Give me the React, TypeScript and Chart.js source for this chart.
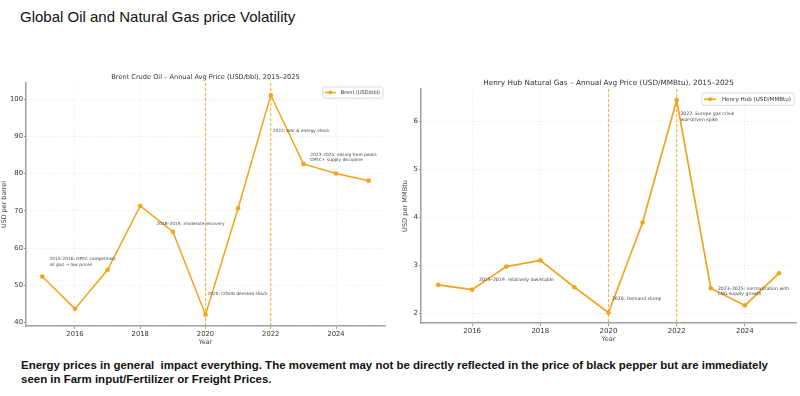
import React, { useEffect, useLayoutEffect, useRef } from "react";
import { Chart, registerables } from "chart.js";

Chart.register(...registerables);

// ---------- data ----------
const years = [2015, 2016, 2017, 2018, 2019, 2020, 2021, 2022, 2023, 2024, 2025];
const brent = [52.4, 43.7, 54.2, 71.3, 64.4, 42.1, 70.7, 101.0, 82.6, 80.0, 78.1];
const henryHub = [2.6, 2.5, 2.98, 3.11, 2.55, 2.02, 3.9, 6.45, 2.53, 2.17, 2.84];
const xTickYears = [2016, 2018, 2020, 2022, 2024];
const brentTicks = [40, 50, 60, 70, 80, 90, 100];
const gasTicks = [2, 3, 4, 5, 6];
const eventYears = [2020, 2022];

const brentNotes = [
  { x: 2015.22, y: 57.05, lines: ["2015–2016: OPEC competition,", "oil glut → low prices"] },
  { x: 2018.5, y: 66.5, lines: ["2018–2019: moderate recovery"] },
  { x: 2020.06, y: 47.6, lines: ["2020: COVID demand shock"] },
  { x: 2022.06, y: 91.5, lines: ["2022: War & energy shock"] },
  { x: 2023.21, y: 85.1, lines: ["2023–2025: easing from peaks", "OPEC+ supply discipline"] },
];
const gasNotes = [
  { x: 2022.11, y: 6.155, lines: ["2022: Europe gas crisis", "war-driven spike"] },
  { x: 2016.2, y: 2.715, lines: ["2015–2019: relatively low/stable"] },
  { x: 2020.1, y: 2.31, lines: ["2020: Demand slump"] },
  { x: 2023.21, y: 2.527, lines: ["2023–2025: normalization with", "LNG supply growth"] },
];

const pageTitle = "Global Oil and Natural Gas price Volatility";
const footnote = [
  "Energy prices in general  impact everything. The movement may not be directly reflected in the price of black pepper but are immediately",
  "seen in Farm input/Fertilizer or Freight Prices.",
];

const ORANGE = "#F2A31B";
const EVENT = "rgba(242,163,27,0.8)";

// ---------- overlay plugin ----------
const overlay = {
  id: "overlay",
  beforeDatasetsDraw(chart: any, _a: any, o: any) {
    const { ctx, chartArea, scales } = chart;
    ctx.save();
    ctx.strokeStyle = EVENT;
    ctx.lineWidth = 1.1;
    ctx.setLineDash([3, 2]);
    for (const yr of o.events) {
      const px = scales.x.getPixelForValue(yr);
      ctx.beginPath();
      ctx.moveTo(px, chartArea.top);
      ctx.lineTo(px, chartArea.bottom);
      ctx.stroke();
    }
    ctx.restore();
  },
  afterDraw(chart: any, _a: any, o: any) {
    const { ctx, chartArea, scales } = chart;
    ctx.save();
    // title
    ctx.fillStyle = "#333";
    ctx.font = `${o.titleSize}px "DejaVu Sans"`;
    ctx.textAlign = "center";
    ctx.textBaseline = "middle";
    ctx.fillText(o.title, (chartArea.left + chartArea.right) / 2, chartArea.top - 6);
    // notes
    ctx.font = `${o.noteSize}px "DejaVu Sans"`;
    ctx.textAlign = "left";
    ctx.fillStyle = "#444";
    for (const n of o.notes) {
      const px = scales.x.getPixelForValue(n.x);
      const py = scales.y.getPixelForValue(n.y);
      n.lines.forEach((l: string, i: number) => ctx.fillText(l, px, py + i * o.noteSize * 1.25));
    }
    // legend
    ctx.font = `${o.legendSize}px "DejaVu Sans"`;
    const tw = ctx.measureText(o.legend).width;
    const lineW = o.legendSize * 2.2;
    const boxW = 2 + lineW + o.legendSize + tw + 3;
    const boxH = o.legendSize * 2.2;
    const bx = chartArea.right - 2 - boxW;
    const by = chartArea.top + 4;
    ctx.fillStyle = "rgba(255,255,255,0.9)";
    ctx.strokeStyle = "#d0d0d0";
    ctx.lineWidth = 0.8;
    ctx.beginPath();
    ctx.roundRect(bx, by, boxW, boxH, 2);
    ctx.fill();
    ctx.stroke();
    const cy = by + boxH / 2;
    ctx.strokeStyle = ORANGE;
    ctx.lineWidth = 1.5;
    ctx.beginPath();
    ctx.moveTo(bx + 2, cy);
    ctx.lineTo(bx + 2 + lineW, cy);
    ctx.stroke();
    ctx.fillStyle = ORANGE;
    ctx.beginPath();
    ctx.arc(bx + 2 + lineW / 2, cy, 2, 0, Math.PI * 2);
    ctx.fill();
    ctx.fillStyle = "#333";
    ctx.textBaseline = "middle";
    ctx.fillText(o.legend, bx + 2 + lineW + o.legendSize, cy);
    ctx.restore();
  },
};

type Cfg = {
  values: number[];
  yTicks: number[];
  yMin: number;
  yMax: number;
  yTitle: string;
  yWidth: number;
  padding: { top: number; right: number; bottom: number; left: number };
  title: string;
  titleSize: number;
  notes: any[];
  noteSize: number;
  legend: string;
  legendSize: number;
  tickSize: number;
  axisTitleSize: number;
  lineWidth: number;
};

function LineChart({ cfg, width, height, style }: { cfg: Cfg; width: number; height: number; style: any }) {
  const ref = useRef<HTMLCanvasElement>(null);
  useEffect(() => {
    const chart = new Chart(ref.current!, {
      type: "line",
      data: {
        datasets: [
          {
            label: cfg.legend,
            data: years.map((yr, i) => ({ x: yr, y: cfg.values[i] })),
            borderColor: ORANGE,
            backgroundColor: ORANGE,
            borderWidth: cfg.lineWidth,
            pointRadius: 2.3,
            pointBorderWidth: 0,
            pointBackgroundColor: ORANGE,
            tension: 0,
          },
        ],
      },
      options: {
        responsive: false,
        animation: false,
        events: [],
        layout: { padding: cfg.padding },
        plugins: {
          legend: { display: false },
          tooltip: { enabled: false },
          title: { display: false },
          overlay: {
            events: eventYears,
            title: cfg.title,
            titleSize: cfg.titleSize,
            notes: cfg.notes,
            noteSize: cfg.noteSize,
            legend: cfg.legend,
            legendSize: cfg.legendSize,
          },
        } as any,
        scales: {
          x: {
            type: "linear",
            min: 2014.5,
            max: 2025.5,
            afterBuildTicks: (s: any) => {
              s.ticks = xTickYears.map((v) => ({ value: v }));
            },
            afterFit: (s: any) => {
              s.height = 20;
            },
            ticks: {
              callback: (v: any) => String(v),
              color: "#333",
              font: { family: "DejaVu Sans", size: cfg.tickSize },
              padding: 1,
              maxRotation: 0,
              autoSkip: false,
            },
            grid: { color: "rgba(0,0,0,0.09)", lineWidth: 0.7, tickLength: 3, tickColor: "#999", tickWidth: 1 },
            border: { color: "#a0a0a0", width: 1.5, dash: [1.5, 2] },
            title: {
              display: true,
              text: "Year",
              color: "#444",
              font: { family: "DejaVu Sans", size: cfg.axisTitleSize },
              padding: 0,
            },
          },
          y: {
            type: "linear",
            min: cfg.yMin,
            max: cfg.yMax,
            afterBuildTicks: (s: any) => {
              s.ticks = cfg.yTicks.map((v) => ({ value: v }));
            },
            afterFit: (s: any) => {
              s.width = cfg.yWidth;
            },
            ticks: {
              callback: (v: any) => String(v),
              color: "#333",
              font: { family: "DejaVu Sans", size: cfg.tickSize },
              padding: 1,
            },
            grid: { color: "rgba(0,0,0,0.09)", lineWidth: 0.7, tickLength: 2, tickColor: "#999", tickWidth: 1 },
            border: { color: "#a0a0a0", width: 1.5, dash: [1.5, 2] },
            title: {
              display: true,
              text: cfg.yTitle,
              color: "#444",
              font: { family: "DejaVu Sans", size: cfg.axisTitleSize },
              padding: 1,
            },
          },
        },
      },
      plugins: [overlay as any],
    });
    return () => chart.destroy();
  }, []);
  return <canvas ref={ref} width={width} height={height} style={{ position: "absolute", width, height, ...style }} />;
}

const brentCfg: Cfg = {
  values: brent,
  yTicks: brentTicks,
  yMin: 39.1,
  yMax: 104.3,
  yTitle: "USD per barrel",
  yWidth: 26,
  padding: { top: 23, right: 7, bottom: 4, left: 0 },
  title: "Brent Crude Oil – Annual Avg Price (USD/bbl), 2015–2025",
  titleSize: 6.6,
  notes: brentNotes,
  noteSize: 4.3,
  legend: "Brent (USD/bbl)",
  legendSize: 5,
  tickSize: 6.8,
  axisTitleSize: 6.4,
  lineWidth: 1.5,
};

const gasCfg: Cfg = {
  values: henryHub,
  yTicks: gasTicks,
  yMin: 1.805,
  yMax: 6.68,
  yTitle: "USD per MMBtu",
  yWidth: 21,
  padding: { top: 29, right: 1, bottom: 7, left: 0 },
  title: "Henry Hub Natural Gas – Annual Avg Price (USD/MMBtu), 2015–2025",
  titleSize: 7.3,
  notes: gasNotes,
  noteSize: 4.6,
  legend: "Henry Hub (USD/MMBtu)",
  legendSize: 5.6,
  tickSize: 7,
  axisTitleSize: 6.6,
  lineWidth: 1.7,
};

function Footnote() {
  const ref = useRef<HTMLDivElement>(null);
  const firstRef = useRef<HTMLSpanElement>(null);
  useLayoutEffect(() => {
    const w = firstRef.current!.getBoundingClientRect().width;
    if (w > 0) ref.current!.style.transform = `scaleX(${747 / w})`;
  }, []);
  return (
    <div
      ref={ref}
      style={{
        position: "absolute",
        left: 21,
        top: 358,
        transformOrigin: "0 0",
        fontFamily: '"Liberation Sans", Arial, sans-serif',
        fontWeight: "bold",
        fontSize: 11.5,
        lineHeight: "14.3px",
        color: "#111",
        whiteSpace: "pre",
      }}
    >
      <span ref={firstRef}>{footnote[0]}</span>
      {"\n"}
      <span>{footnote[1]}</span>
    </div>
  );
}

export default function App() {
  return (
    <div style={{ position: "absolute", left: 0, top: 0, width: 800, height: 396, background: "#fff", overflow: "hidden" }}>
      <div
        style={{
          position: "absolute",
          left: 20,
          top: 7,
          fontFamily: '"Liberation Sans", Arial, sans-serif',
          fontSize: 15,
          lineHeight: "20px",
          color: "#111",
          whiteSpace: "nowrap",
        }}
      >
        {pageTitle}
      </div>
      <LineChart cfg={brentCfg} width={392} height={290} style={{ left: 0, top: 60 }} />
      <LineChart cfg={gasCfg} width={400} height={290} style={{ left: 400, top: 60 }} />
      <Footnote />
    </div>
  );
}
